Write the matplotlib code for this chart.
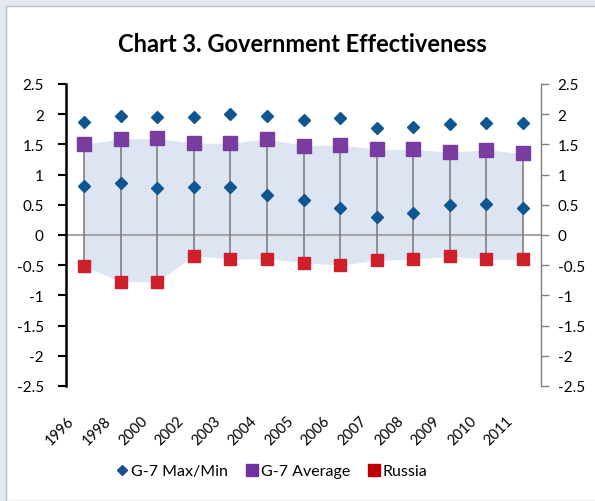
import matplotlib.pyplot as plt
import matplotlib.transforms as mtransforms
from matplotlib.patches import Rectangle

# ----- данные -----
years = ["1996", "1998", "2000", "2002", "2003", "2004", "2005",
         "2006", "2007", "2008", "2009", "2010", "2011"]
g7_max = [1.87, 1.97, 1.96, 1.95, 2.01, 1.97, 1.91, 1.93, 1.77, 1.79, 1.83, 1.86, 1.86]
g7_min = [0.81, 0.86, 0.77, 0.80, 0.80, 0.67, 0.58, 0.44, 0.29, 0.37, 0.49, 0.51, 0.44]
g7_avg = [1.50, 1.59, 1.60, 1.52, 1.52, 1.59, 1.48, 1.49, 1.42, 1.42, 1.37, 1.41, 1.35]
russia = [-0.52, -0.77, -0.77, -0.34, -0.40, -0.39, -0.46, -0.50, -0.42, -0.40, -0.35, -0.40, -0.40]
y_ticks = [2.5, 2, 1.5, 1, 0.5, 0, -0.5, -1, -1.5, -2, -2.5]

# цвета
c_blue = "#0F5690"
c_purple = "#7A3C9E"
c_red = "#CE1F2A"
c_fill = "#DCE5F1"
c_gray = "#7F7F7F"

plt.rcParams['font.family'] = ['Lato', 'DejaVu Sans']

fig = plt.figure(figsize=(5.95, 5.02), dpi=100, facecolor="#E4E8F1")
# белая рамка диаграммы
fig.patches.append(Rectangle((6 / 595, 0), 1, 1 - 7 / 502, transform=fig.transFigure,
                             facecolor="white", edgecolor="#B8BCC4", linewidth=1, zorder=-10))

ax = fig.add_axes([66 / 595, 1 - 387 / 502, 475 / 595, 302 / 502])
ax.set_facecolor("none")
x = list(range(len(years)))

# заливка между средним G-7 и Россией
ax.fill_between(x, g7_avg, russia, color=c_fill, linewidth=0, zorder=1)
ax.axhline(0, color="#A6A6A6", linewidth=1.5, zorder=2)
# вертикальные линии
ax.vlines(x, russia, g7_avg, color=c_gray, linewidth=1.2, zorder=3)

ax.plot(x, g7_max, linestyle="none", marker="D", color=c_blue, markersize=6.5, zorder=4)
ax.plot(x, g7_min, linestyle="none", marker="D", color=c_blue, markersize=6.5, zorder=4)
ax.plot(x, g7_avg, linestyle="none", marker="s", color=c_purple, markersize=9.5, zorder=4)
ax.plot(x, russia, linestyle="none", marker="s", color=c_red, markersize=8.5, zorder=4)

ax.set_xlim(-0.5, len(years) - 0.5)
ax.set_ylim(-2.5, 2.5)
ax.set_yticks(y_ticks)
ax.set_yticklabels(["{:g}".format(v) for v in y_ticks], fontsize=11)
ax.set_xticks(x)
ax.set_xticklabels(years, rotation=45, ha="right", va="center",
                   rotation_mode="anchor", fontsize=10.5)
ax.tick_params(axis="x", length=0, pad=23)
# сдвигаем подписи годов немного влево
offset = mtransforms.ScaledTranslation(-12 / 100, 0, fig.dpi_scale_trans)
for lbl in ax.get_xticklabels():
    lbl.set_transform(lbl.get_transform() + offset)
ax.tick_params(axis="y", direction="out", length=6, width=1.5, color="black", pad=10)

for s in ["top", "right", "bottom"]:
    ax.spines[s].set_visible(False)
ax.spines["left"].set_linewidth(1.8)
ax.spines["left"].set_color("black")

# правая ось
ax2 = ax.twinx()
ax2.set_ylim(-2.5, 2.5)
ax2.set_yticks(y_ticks)
ax2.set_yticklabels(["{:g}".format(v) for v in y_ticks], fontsize=11)
ax2.tick_params(axis="y", direction="out", length=6, width=1, color=c_gray, pad=6)
for s in ["top", "left", "bottom"]:
    ax2.spines[s].set_visible(False)
ax2.spines["right"].set_color(c_gray)
ax2.spines["right"].set_linewidth(1)

fig.text(302 / 595, 1 - 45 / 502, "Chart 3. Government Effectiveness",
         ha="center", va="center", fontsize=17, fontweight="bold")

# легенда
h1, = ax.plot([], [], linestyle="none", marker="D", color="#1F4E8C", markersize=5.5)
h2, = ax.plot([], [], linestyle="none", marker="s", color="#7030A0", markersize=8)
h3, = ax.plot([], [], linestyle="none", marker="s", color="#C00000", markersize=8)
fig.legend([h1, h2, h3], ["G-7 Max/Min", "G-7 Average", "Russia"],
           loc="center", bbox_to_anchor=(271 / 595, 1 - 472 / 502), ncol=3,
           frameon=False, fontsize=11.5, handletextpad=0.05, columnspacing=1.0,
           handlelength=1.0)

plt.savefig("out.png", dpi=100, facecolor=fig.get_facecolor())
